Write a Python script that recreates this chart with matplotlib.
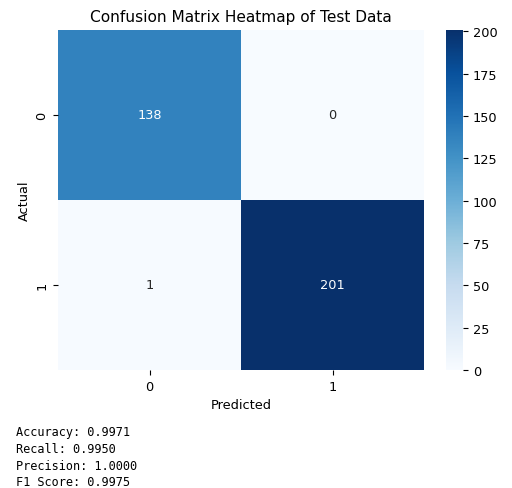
import matplotlib
matplotlib.use("Agg")
import matplotlib.pyplot as plt
import seaborn as sns
import numpy as np

row_labels = ["0", "1"]
col_labels = ["0", "1"]
row0 = [138, 0]
row1 = [1, 201]
metric_names = ["Accuracy", "Recall", "Precision", "F1 Score"]
metric_values = [0.9971, 0.9950, 1.0000, 0.9975]

cm = np.array([row0, row1])

fs = 9.3
plt.rcParams.update({"font.size": fs, "xtick.labelsize": fs, "ytick.labelsize": fs,
                     "axes.labelsize": fs})

fig = plt.figure(figsize=(5.12, 4.89), dpi=100)
W, H = 512, 489
top, bot = 30.5, 371
ax = fig.add_axes([58 / W, (H - bot) / H, 366 / W, (bot - top) / H])
cax = fig.add_axes([446 / W, (H - bot) / H, 17 / W, (bot - top) / H])
sns.heatmap(cm, annot=True, fmt="d", cmap="Blues", ax=ax, cbar_ax=cax,
            xticklabels=col_labels, yticklabels=row_labels,
            annot_kws={"fontsize": fs})
ax.set_position([58 / W, (H - bot) / H, 366 / W, (bot - top) / H])
cax.set_position([446 / W, (H - bot) / H, 17 / W, (bot - top) / H])
ax.set_title("Confusion Matrix Heatmap of Test Data", fontsize=11.1)
ax.set_xlabel("Predicted", labelpad=3.5)
ax.set_ylabel("Actual", labelpad=3.5)

text = "\n".join(f"{n}: {v:.4f}" for n, v in zip(metric_names, metric_values))
fig.text(16 / W, 1 - 426 / H, text, family="monospace", fontsize=8.6,
         va="top", ha="left", linespacing=1.38)

fig.savefig("out.png", dpi=100)
